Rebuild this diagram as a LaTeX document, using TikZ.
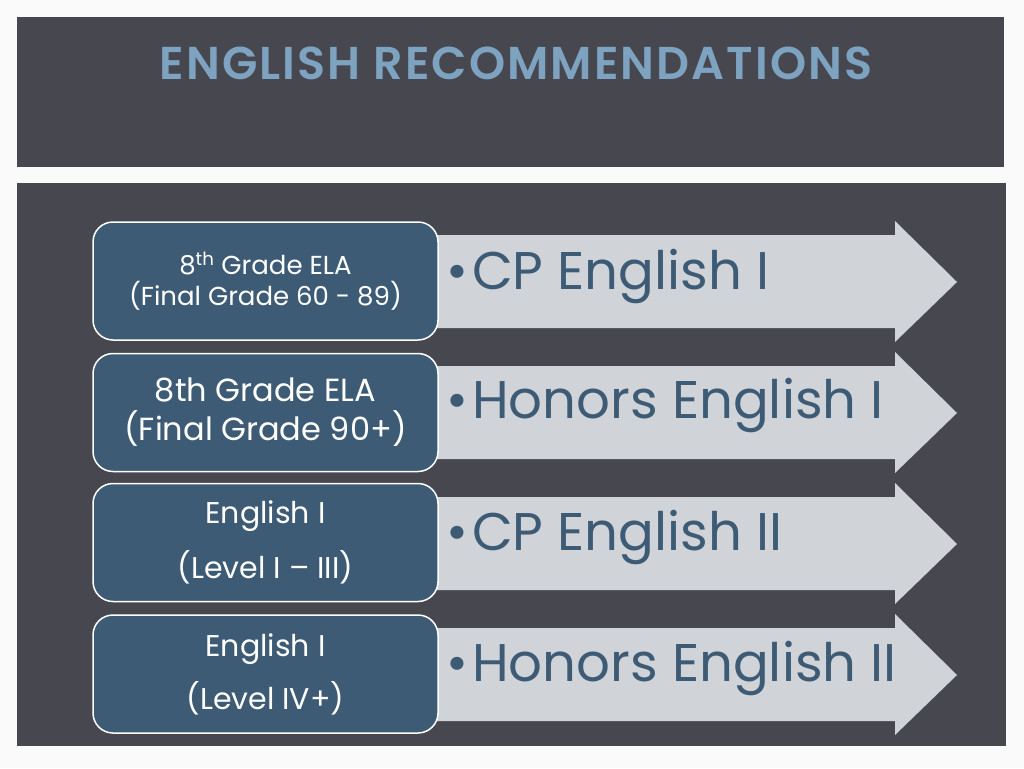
\documentclass[tikz,border=0pt]{standalone}
\usepackage{fontspec}
\setmainfont{Poppins}
\newfontfamily\titlefont[LetterSpace=4.5]{Poppins SemiBold}
\usepackage{tikz}
\usetikzlibrary{positioning}
\definecolor{slidebg}{HTML}{FAFAFB}
\definecolor{panel}{HTML}{474750}
\definecolor{boxblue}{HTML}{3E5B75}
\definecolor{arrowgrey}{HTML}{D0D3D8}
\definecolor{titleblue}{HTML}{7EA3C0}
\tikzstyle{gradebox} = [rectangle, rounded corners=20pt, draw=white, line width=1.5pt, fill=boxblue, text=white, align=center, minimum width=345pt, minimum height=118pt, inner sep=0pt]
\tikzstyle{course} = [anchor=base west, text=boxblue, inner sep=0pt, font=\fontsize{53}{58}\selectfont]
\tikzstyle{band} = [fill=arrowgrey, draw=none]
\newcommand{\bul}{•\hspace{4pt}}

\begin{document}
\begin{tikzpicture}[x=1pt,y=-1pt]
		\useasboundingbox (0,0) rectangle (1024,768);
		\fill[slidebg] (0,0) rectangle (1024,768);
		\fill[panel] (17,17) rectangle (1004,167);
		\fill[panel] (17,183) rectangle (1006,746);
		\node[anchor=base, text=titleblue, inner sep=0pt] (title) at (516,79) {\titlefont\fontsize{46}{50}\selectfont ENGLISH RECOMMENDATIONS};
		% arrows
		\draw[band] (420,235) -- (895,235) -- (895,221) -- (957,282) -- (895,342) -- (895,328) -- (420,328) -- cycle;
		\draw[band] (420,366) -- (895,366) -- (895,352) -- (957,413) -- (895,473) -- (895,459) -- (420,459) -- cycle;
		\draw[band] (420,497) -- (895,497) -- (895,483) -- (957,544) -- (895,604) -- (895,590) -- (420,590) -- cycle;
		\draw[band] (420,628) -- (895,628) -- (895,614) -- (957,675) -- (895,735) -- (895,721) -- (420,721) -- cycle;
		\node[course] (cp1) at (446,289) {\bul CP English I};
		\node[course] (hon1) at (446,418) {\bul Honors English I};
		\node[course] (cp2) at (446,550) {\bul CP English II};
		\node[course] (hon2) at (446,681) {\bul Honors English II};
		% grade boxes
		\node[gradebox, font=\fontsize{26}{31}\selectfont] (ela) at (265.5,281) {8\textsuperscript{th} Grade ELA\\(Final Grade 60 - 89)};
		\node[gradebox, font=\fontsize{32}{39}\selectfont] (elahigh) at (265.5,412.5) {8th Grade ELA\\(Final Grade 90+)};
		\node[gradebox, font=\fontsize{30}{55}\selectfont] (engone) at (265.5,542.5) {English I\\(Level I -- III)};
		\node[gradebox, font=\fontsize{30}{53}\selectfont] (engfour) at (265.5,674) {English I\\(Level IV+)};
	\end{tikzpicture}
\end{document}
